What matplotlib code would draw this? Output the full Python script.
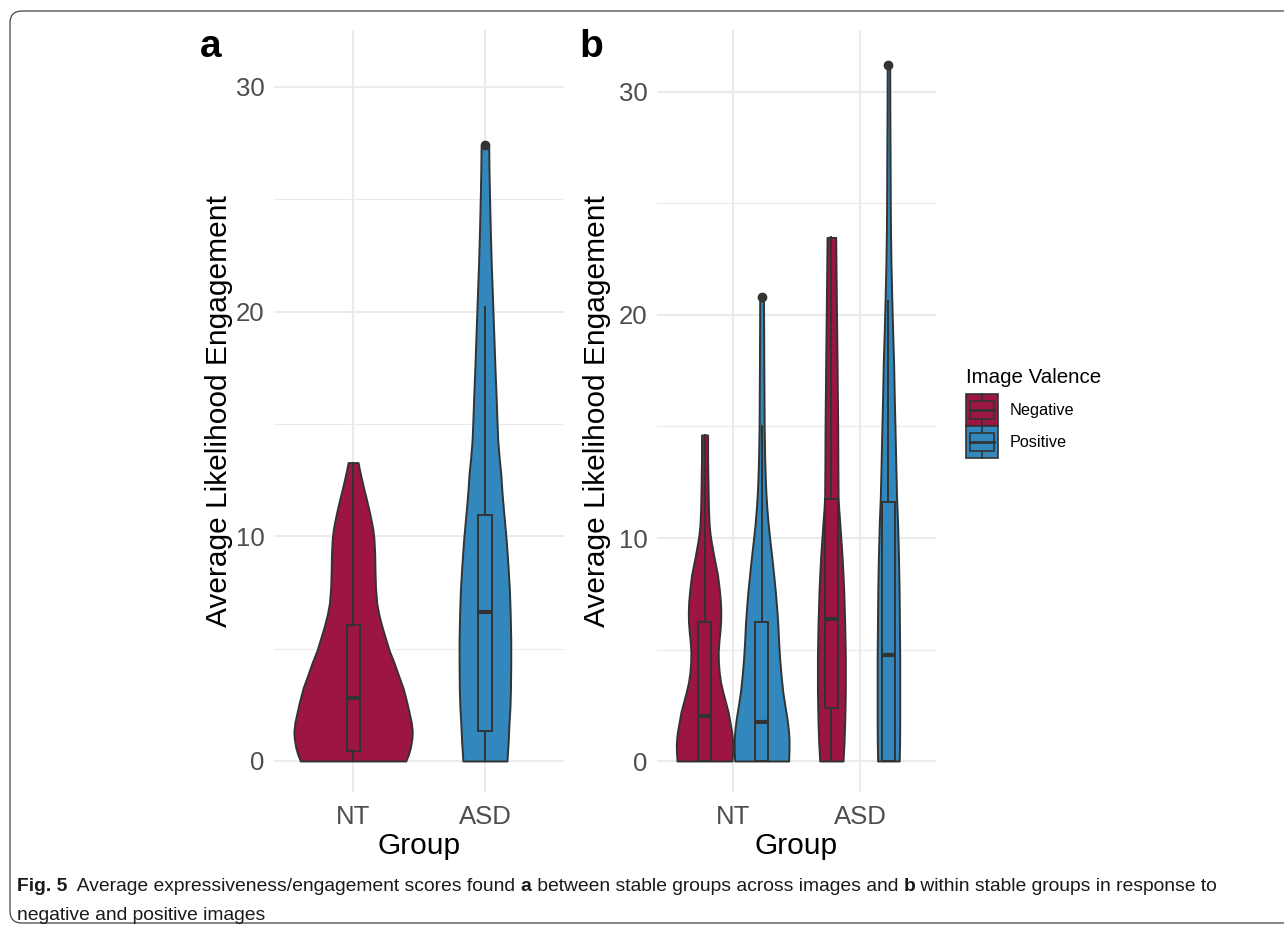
import matplotlib
matplotlib.use('Agg')
import matplotlib.pyplot as plt
from matplotlib.patches import Rectangle, FancyBboxPatch, Patch
from matplotlib.lines import Line2D
from matplotlib.legend_handler import HandlerBase
from matplotlib.transforms import IdentityTransform
from matplotlib.font_manager import FontProperties

plt.rcParams['font.family'] = ['Liberation Sans', 'DejaVu Sans']

# ---------------- data ----------------
groups = ['NT', 'ASD']
valences = ['Negative', 'Positive']
y_ticks = [0, 10, 20, 30]

# panel a: violin profiles (value, half-width in category units)
a_nt_y = [0, 0.3, 0.6, 1.0, 1.3, 1.7, 2.05, 2.6, 3.25, 3.8, 4.4, 4.9, 5.45, 6.0, 6.5, 7.0,
          7.7, 8.5, 9.2, 9.9, 10.3, 10.65, 11.1, 11.6, 12.1, 12.6, 13.0, 13.28]
a_nt_w = [0.40, 0.42, 0.435, 0.446, 0.449, 0.442, 0.429, 0.408, 0.379, 0.345, 0.309, 0.275, 0.246, 0.218,
          0.196, 0.18, 0.17, 0.166, 0.164, 0.158, 0.15, 0.139, 0.123, 0.103, 0.082, 0.062, 0.047, 0.038]
a_asd_y = [0, 0.8, 1.7, 2.4, 3.2, 4.3, 5.4, 6.5, 7.6, 8.7, 9.8, 10.6, 11.3, 12.0, 12.8, 13.5, 14.3,
           15.2, 16.2, 17.7, 19.2, 20.7, 22.15, 23.6, 25.1, 26.3, 27.35]
a_asd_w = [0.167, 0.176, 0.183, 0.19, 0.194, 0.196, 0.196, 0.192, 0.186, 0.175, 0.162, 0.15, 0.139, 0.129,
           0.12, 0.108, 0.097, 0.091, 0.085, 0.075, 0.066, 0.057, 0.048, 0.041, 0.035, 0.031, 0.029]

# panel a: box statistics (NT, ASD)
a_q1 = [0.46, 1.33]
a_med = [2.79, 6.62]
a_q3 = [6.05, 10.95]
a_lo = [0, 0]
a_hi = [13.28, 20.2]
a_out = [[], [27.4]]

# panel b: violin profiles
b_nt_neg_y = [0, 0.35, 0.7, 1.0, 1.3, 1.75, 2.2, 2.65, 3.1, 3.55, 4.0, 4.45, 4.9, 5.35, 5.8, 6.25, 6.7,
              7.15, 7.6, 8.0, 8.35, 8.7, 9.1, 9.5, 9.85, 10.2, 10.6, 11.3, 12.1, 13.6, 14.62]
b_nt_neg_w = [0.217, 0.221, 0.223, 0.22, 0.214, 0.2, 0.186, 0.165, 0.144, 0.126, 0.115, 0.109, 0.108,
              0.113, 0.121, 0.127, 0.128, 0.125, 0.118, 0.11, 0.102, 0.09, 0.076, 0.063, 0.052, 0.043,
              0.036, 0.031, 0.028, 0.024, 0.024]
b_nt_pos_y = [0, 0.5, 1.0, 1.45, 1.9, 2.5, 3.1, 3.85, 4.6, 5.35, 6.1, 6.85, 7.6, 8.35, 9.1, 9.85, 10.6,
              11.35, 12.1, 12.85, 13.6, 15.0, 18.0, 20.82]
b_nt_pos_w = [0.213, 0.216, 0.216, 0.21, 0.2, 0.183, 0.167, 0.153, 0.142, 0.134, 0.128, 0.119, 0.108,
              0.095, 0.081, 0.066, 0.052, 0.041, 0.033, 0.028, 0.024, 0.02, 0.017, 0.015]
b_asd_neg_y = [0, 0.85, 1.7, 2.45, 3.2, 4.7, 6.2, 7.7, 8.45, 9.2, 9.95, 10.7, 11.3, 11.85, 13.3, 14.85,
               17.8, 20.8, 23.48]
b_asd_neg_w = [0.092, 0.1, 0.105, 0.108, 0.11, 0.11, 0.105, 0.097, 0.091, 0.084, 0.075, 0.066, 0.058,
               0.053, 0.051, 0.05, 0.045, 0.039, 0.034]
b_asd_pos_y = [0, 0.85, 1.7, 4.7, 7.7, 9.2, 10.7, 11.85, 13.3, 14.85, 16.3, 17.8, 19.3, 20.8, 22.3, 23.8,
               25.4, 27.0, 29.1, 31.2]
b_asd_pos_w = [0.085, 0.088, 0.089, 0.089, 0.084, 0.079, 0.072, 0.064, 0.058, 0.052, 0.046, 0.041, 0.033,
               0.026, 0.02, 0.016, 0.014, 0.013, 0.011, 0.01]

# panel b: box statistics (NT-Neg, NT-Pos, ASD-Neg, ASD-Pos)
b_q1 = [0, 0, 2.36, 0]
b_med = [2.0, 1.75, 6.37, 4.75]
b_q3 = [6.22, 6.22, 11.73, 11.63]
b_lo = [0, 0, 0, 0]
b_hi = [14.62, 15.0, 23.48, 20.65]
b_out = [[], [20.82], [], [31.2]]

# ---------------- style ----------------
NEG = '#9D1641'
POS = '#3288BD'
EDGE = '#333333'
GRID = '#EBEBEB'
TICKC = '#4D4D4D'
W, H = 1284, 927

fig = plt.figure(figsize=(W / 100, H / 100), dpi=100)


def px_axes(l, r, t, b):
    return fig.add_axes([l / W, 1 - b / H, (r - l) / W, (b - t) / H])


ax_a = px_axes(274, 564, 30, 792)
ax_b = px_axes(657, 936, 30, 792)


def style(ax, ylim):
    ax.set_xlim(0.4, 2.6)
    ax.set_ylim(*ylim)
    for s in ax.spines.values():
        s.set_visible(False)
    ax.set_xticks([1, 2])
    ax.set_xticklabels(groups)
    ax.set_yticks(y_ticks)
    ax.set_yticks([5, 15, 25], minor=True)
    ax.tick_params(axis='both', which='both', length=0, labelsize=18.5, labelcolor=TICKC)
    ax.tick_params(axis='y', pad=7)
    ax.tick_params(axis='x', pad=9)
    ax.grid(True, which='major', color=GRID, lw=1.5)
    ax.grid(True, which='minor', axis='y', color=GRID, lw=0.8)
    ax.set_axisbelow(True)
    ax.set_xlabel('Group', fontsize=21.5, color='black')
    ax.set_ylabel('Average Likelihood Engagement', fontsize=21.5, color='black')
    ax.xaxis.set_label_coords(0.5, -0.052)


def violin(ax, c, ys, ws, color):
    lo = [c - w for w in ws]
    hi = [c + w for w in ws]
    ax.fill_betweenx(ys, lo, hi, facecolor=color, edgecolor=EDGE, lw=1.4, zorder=2,
                     joinstyle='round')


def boxes(ax, pos, q1, med, q3, lo, hi, out, cols):
    stats = []
    for i in range(len(pos)):
        stats.append(dict(q1=q1[i], med=med[i], q3=q3[i], whislo=lo[i], whishi=hi[i], fliers=out[i]))
    bp = ax.bxp(stats, positions=pos, widths=0.1, patch_artist=True, showcaps=False,
                boxprops=dict(edgecolor=EDGE, lw=1.4),
                whiskerprops=dict(color=EDGE, lw=1.4),
                medianprops=dict(color=EDGE, lw=3.0, solid_capstyle='butt'),
                flierprops=dict(marker='o', markerfacecolor=EDGE, markeredgecolor=EDGE, markersize=6),
                manage_ticks=False, zorder=3)
    for b, c in zip(bp['boxes'], cols):
        b.set_facecolor(c)
        b.set_zorder(3)
    for k in ('whiskers', 'medians', 'fliers'):
        for a in bp[k]:
            a.set_zorder(4)


# panel a
style(ax_a, (-1.38, 32.53))
violin(ax_a, 1, a_nt_y, a_nt_w, NEG)
violin(ax_a, 2, a_asd_y, a_asd_w, POS)
boxes(ax_a, [1, 2], a_q1, a_med, a_q3, a_lo, a_hi, a_out, [NEG, POS])
ax_a.yaxis.set_label_coords(-0.142, 0.5)

# panel b
style(ax_b, (-1.39, 32.78))
d = 0.225
violin(ax_b, 1 - d, b_nt_neg_y, b_nt_neg_w, NEG)
violin(ax_b, 1 + d, b_nt_pos_y, b_nt_pos_w, POS)
violin(ax_b, 2 - d, b_asd_neg_y, b_asd_neg_w, NEG)
violin(ax_b, 2 + d, b_asd_pos_y, b_asd_pos_w, POS)
boxes(ax_b, [1 - d, 1 + d, 2 - d, 2 + d], b_q1, b_med, b_q3, b_lo, b_hi, b_out, [NEG, POS, NEG, POS])
ax_b.yaxis.set_label_coords(-0.166, 0.5)

# panel letters
fig.text(200 / W, 1 - 57 / H, 'a', fontsize=28, weight='bold', va='baseline')
fig.text(579 / W, 1 - 57 / H, 'b', fontsize=28, weight='bold', va='baseline')


# legend
class ViolinBoxHandler(HandlerBase):
    def create_artists(self, legend, orig_handle, xdescent, ydescent, width, height, fontsize, trans):
        fc = orig_handle.get_facecolor()
        x0, y0 = -xdescent, -ydescent
        arts = [Rectangle((x0, y0), width, height, facecolor=fc, edgecolor=EDGE, lw=1.2, transform=trans)]
        arts.append(Rectangle((x0 + 0.125 * width, y0 + 0.22 * height), 0.75 * width, 0.56 * height,
                              facecolor=fc, edgecolor=EDGE, lw=1.2, transform=trans))
        cx = x0 + 0.5 * width
        arts.append(Line2D([cx, cx], [y0, y0 + 0.22 * height], color=EDGE, lw=1.2, transform=trans))
        arts.append(Line2D([cx, cx], [y0 + 0.78 * height, y0 + height], color=EDGE, lw=1.2, transform=trans))
        arts.append(Line2D([x0 + 0.125 * width, x0 + 0.875 * width], [y0 + 0.5 * height] * 2,
                           color=EDGE, lw=2.0, transform=trans))
        return arts


handles = [Patch(facecolor=NEG), Patch(facecolor=POS)]
leg = fig.legend(handles, valences, handler_map={Patch: ViolinBoxHandler()},
                 loc='upper left', bbox_to_anchor=(966 / W, 1 - 368 / H), frameon=False,
                 fontsize=11.7, title='Image Valence', title_fontsize=14.8, alignment='left',
                 handlelength=1.95, handleheight=2.65, labelspacing=0.0, handletextpad=0.75,
                 borderpad=0, borderaxespad=0)
leg._legend_box.sep = 5

# frame
frame = FancyBboxPatch((10, H - 923), 1300, 912, boxstyle='round,pad=0,rounding_size=12',
                       facecolor='none', edgecolor='#444444', lw=0.9, transform=IdentityTransform())
fig.add_artist(frame)

# caption
cap_family = ['DejaVu Sans Condensed', 'Liberation Sans Narrow', 'Liberation Sans', 'DejaVu Sans']
line1 = [('Fig. 5', 'bold'), ('  Average expressiveness/engagement scores found ', 'normal'), ('a', 'bold'),
         (' between stable groups across images and ', 'normal'), ('b', 'bold'),
         (' within stable groups in response to', 'normal')]
line2 = [('negative and positive images', 'normal')]

fig.canvas.draw()
renderer = fig.canvas.get_renderer()


def seg_width(s, weight, size):
    fp = FontProperties(family=cap_family, weight=weight, size=size, stretch='condensed')
    w1, _, _ = renderer.get_text_width_height_descent('|' + s + '|', fp, ismath=False)
    w2, _, _ = renderer.get_text_width_height_descent('||', fp, ismath=False)
    return w1 - w2


base = 12.0
tot = sum(seg_width(s, w, base) for s, w in line1)
fs = base * (1220 - 17) / tot


def put_line(segs, y_base):
    x = 17
    for s, w in segs:
        fig.text(x / W, 1 - y_base / H, s, family=cap_family, weight=w, fontsize=fs,
                 fontstretch='condensed', va='baseline', color='#1a1a1a')
        x += seg_width(s, w, fs)


put_line(line1, 891)
put_line(line2, 920)

fig.savefig('out.png', dpi=100)
